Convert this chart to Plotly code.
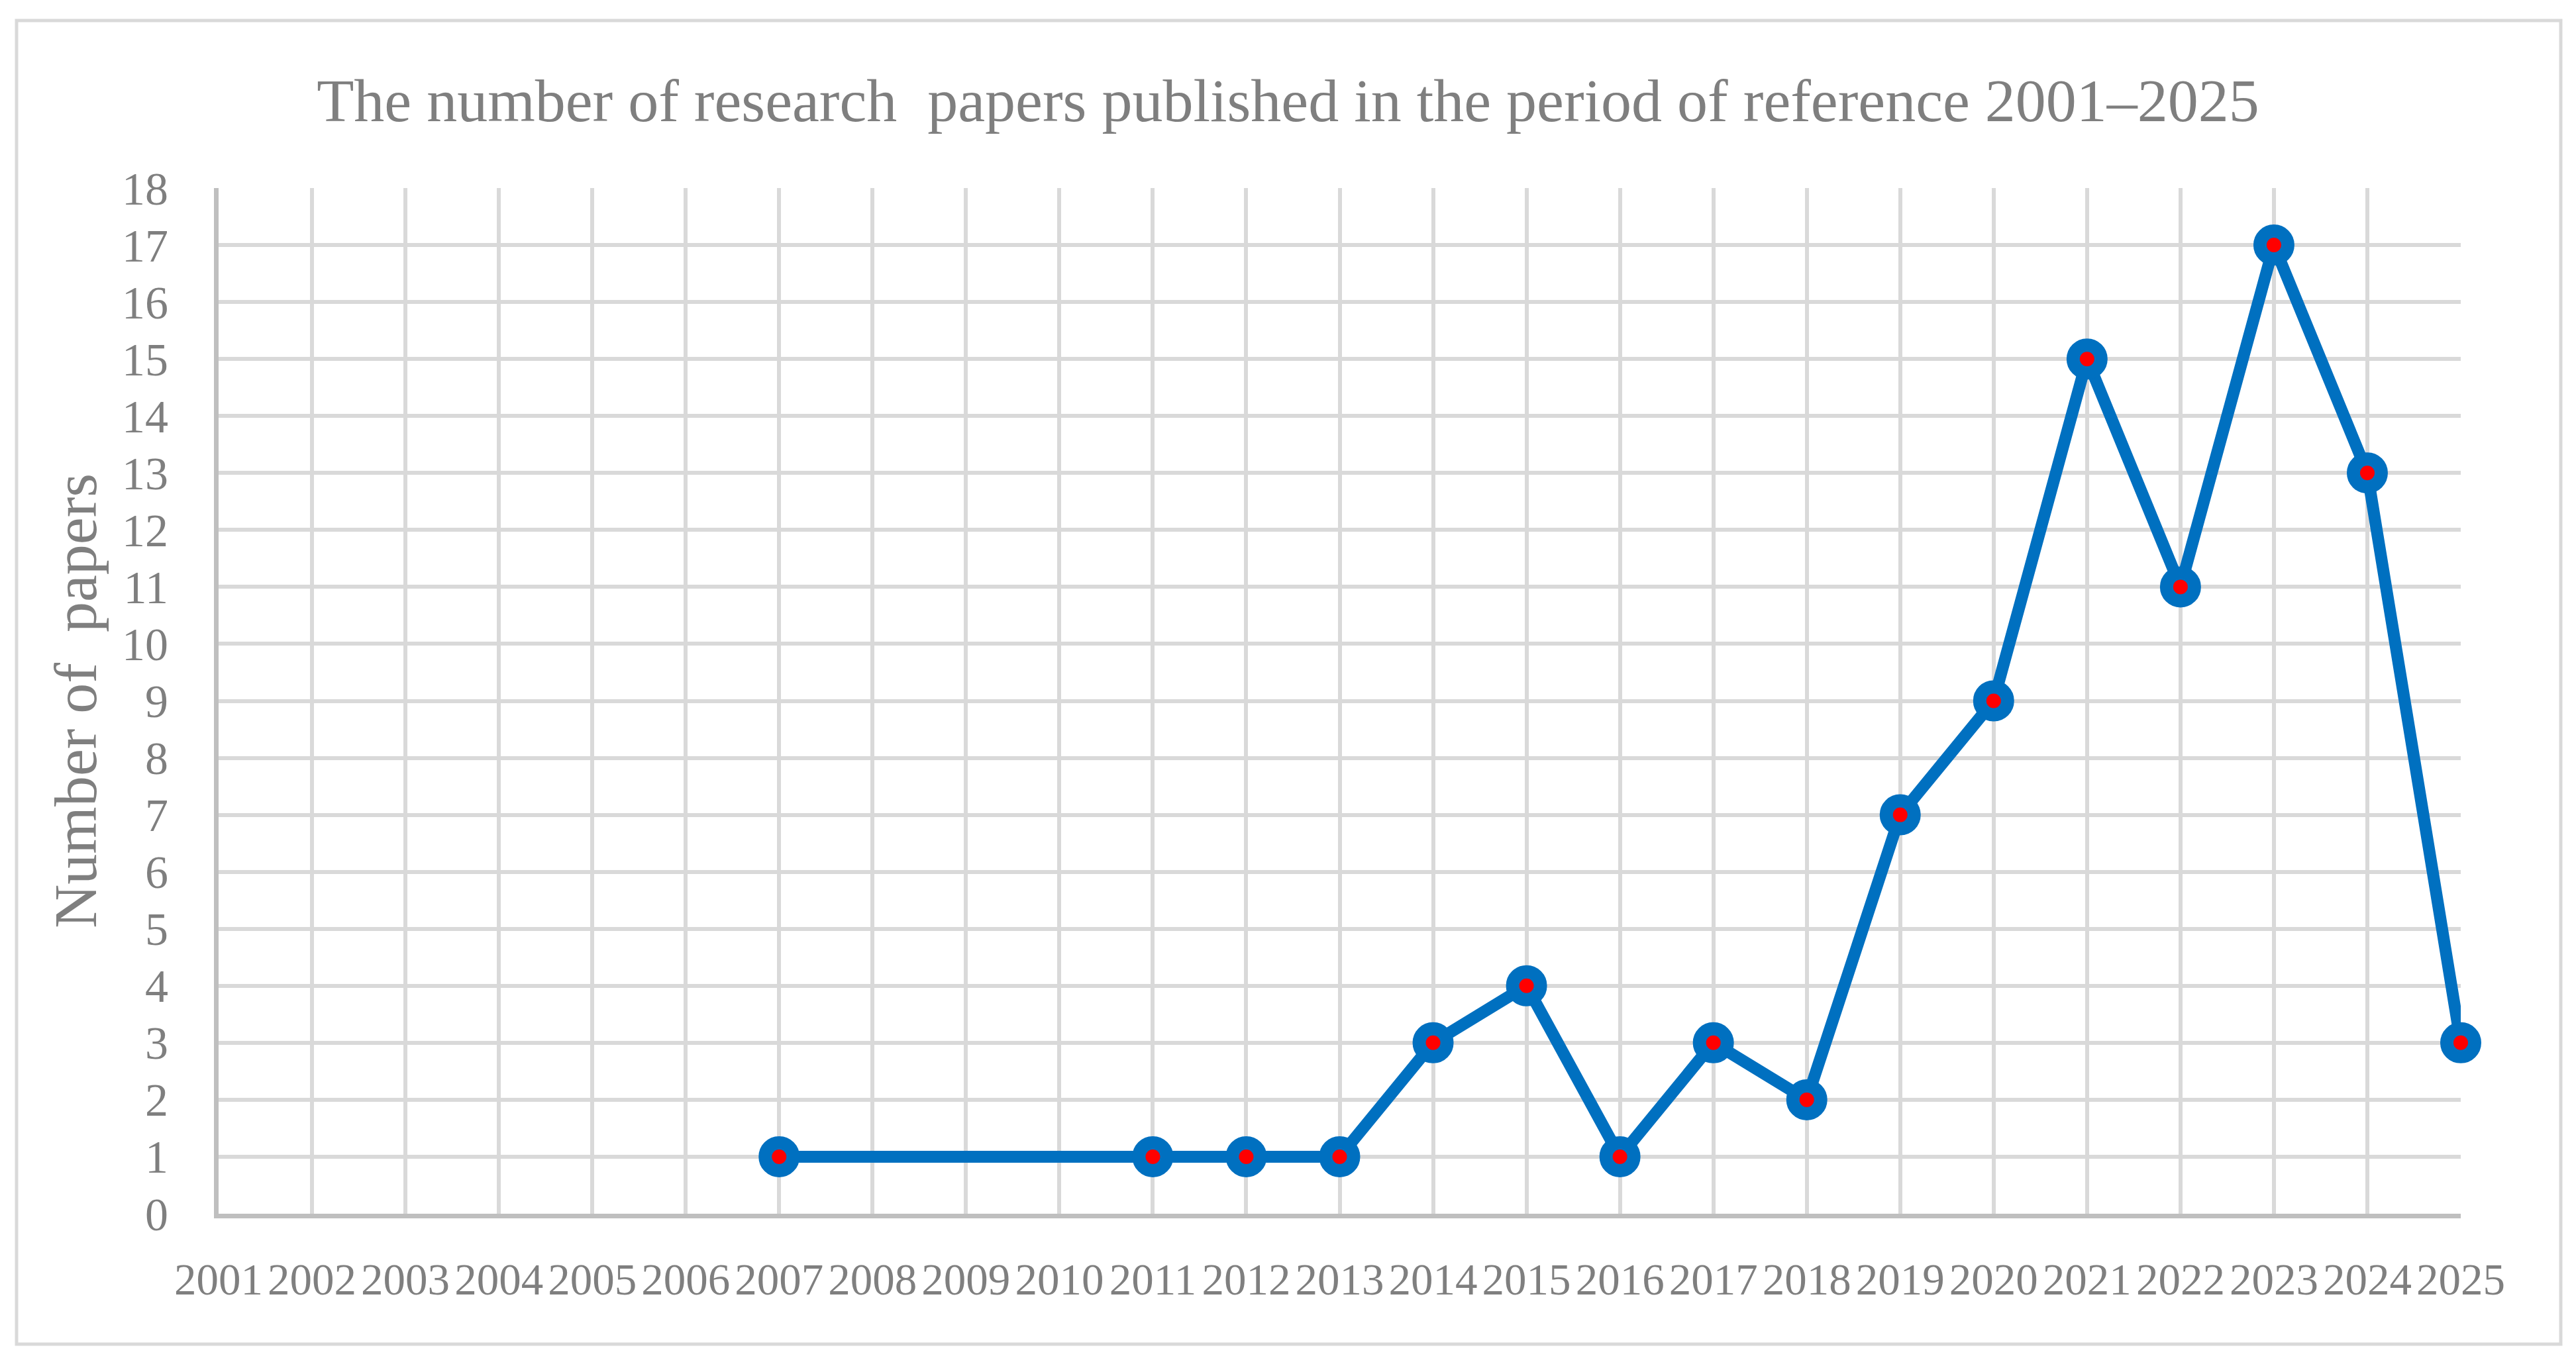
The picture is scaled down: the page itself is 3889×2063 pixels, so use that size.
import plotly.graph_objects as go

years = list(range(2001, 2026))
papers = [None, None, None, None, None, None, 1, None, None, None,
          1, 1, 1, 3, 4, 1, 3, 2, 7, 9, 15, 11, 17, 13, 3]
y_ticks = list(range(0, 19))
x_ticks = years
title_text = "The number of research  papers published in the period of reference 2001–2025"
y_title = "Number of  papers"

W, H = 3889, 2063
L, R, T, B = 330, 3715, 284, 1833
pw, ph = R - L, B - T

def px_x(X):
    return (X - L) / pw

def px_y(Y):
    return (B - Y) / ph

FONT = "Liberation Serif"
GRAY = "#7f7f7f"

fig = go.Figure()
fig.add_trace(go.Scatter(
    x=years, y=papers, mode="lines+markers", connectgaps=True,
    line=dict(color="#0070c0", width=18),
    marker=dict(color="#ff0000", size=42, line=dict(color="#0070c0", width=20)),
    cliponaxis=False, showlegend=False,
))

fig.update_layout(
    width=W, height=H,
    margin=dict(l=L, r=W - R, t=T, b=H - B, pad=0),
    paper_bgcolor="white", plot_bgcolor="white",
    font=dict(family=FONT, color=GRAY),
    title=dict(text=title_text, x=0.5, xanchor="center", xref="container",
               y=1 - 151 / H, yanchor="middle", yref="container",
               font=dict(family=FONT, size=92, color=GRAY)),
    xaxis=dict(range=[2001, 2025], tickvals=x_ticks, ticktext=[str(v) for v in x_ticks],
               showgrid=True, gridcolor="#d9d9d9", gridwidth=6,
               showline=True, linecolor="#bfbfbf", linewidth=7,
               zeroline=False, ticks="", ticklabelstandoff=35,
               tickfont=dict(family=FONT, size=67, color=GRAY)),
    yaxis=dict(range=[0, 18], tickvals=y_ticks,
               showgrid=True, gridcolor="#d9d9d9", gridwidth=6,
               showline=True, linecolor="#bfbfbf", linewidth=7,
               zeroline=False, ticks="", ticklabelstandoff=55,
               tickfont=dict(family=FONT, size=70, color=GRAY),
               title=dict(text=y_title, standoff=10,
                          font=dict(family=FONT, size=92, color=GRAY))),
    shapes=[dict(type="rect", xref="paper", yref="paper",
                 x0=px_x(25), x1=px_x(3866), y0=px_y(2030), y1=px_y(31),
                 line=dict(color="#d9d9d9", width=5), fillcolor="rgba(0,0,0,0)",
                 layer="below")],
)

fig.write_html("out.html", config={"displayModeBar": False},
               post_script="document.body.style.margin='0';")
